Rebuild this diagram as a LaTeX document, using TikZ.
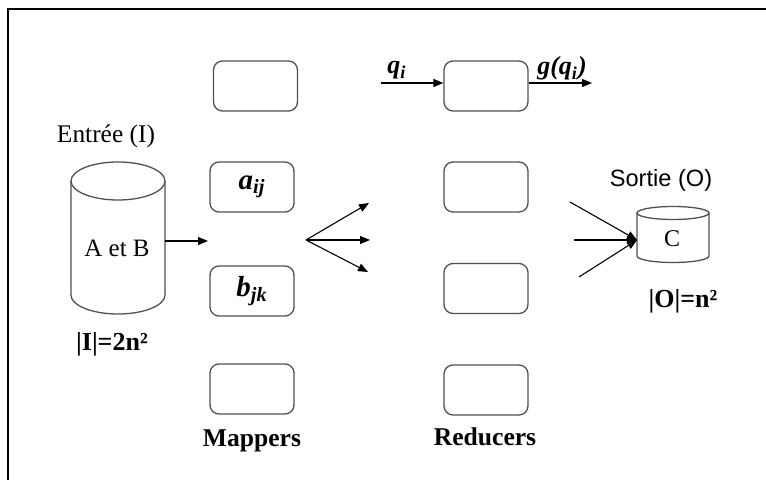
\documentclass[tikz,border=0pt]{standalone}
\usepackage{fontspec}
\setmainfont{Liberation Serif}
\newfontfamily\sansfont{Liberation Sans}
\usetikzlibrary{arrows.meta}
\definecolor{boxgray}{HTML}{505050}
\begin{document}
\begin{tikzpicture}[x=0.5pt,y=-0.5pt,
  procbox/.style={draw=boxgray, line width=0.65pt, rounded corners=4.5pt,
    minimum width=42pt, minimum height=25pt, inner sep=0pt},
  arr/.style={-{Triangle[length=5pt,width=4pt]}, line width=0.55pt},
  cyl/.style={draw=boxgray, line width=0.65pt},
  lbl/.style={anchor=base, inner sep=0pt},
  bi/.style={font=\fontsize{14.5}{16}\selectfont\bfseries\itshape},
  bq/.style={font=\fontsize{13}{15}\selectfont\bfseries\itshape},
  ttl/.style={font=\fontsize{12.8}{15}\selectfont\bfseries},
  card/.style={font=\fontsize{13}{15}\selectfont\bfseries}]
\useasboundingbox (0,0) rectangle (766,480);
% frame
\draw[line width=0.6pt] (8,480) -- (8,9) -- (766,9);

% input cylinder
\draw[cyl] (118,181) ellipse[x radius=47, y radius=19];
\draw[cyl] (71,181) -- (71,295) arc[start angle=180, end angle=0, x radius=47, y radius=19] -- (165,181);
\node[lbl, font=\fontsize{12.7}{15}\selectfont] (entree) at (106,143) {Entrée (I)};
\node[lbl, font=\fontsize{12.5}{15}\selectfont] (aetb) at (117,257) {A et B};
\node[lbl, card] (cardI) at (112,351) {|I|=2n²};
\coordinate (cylE) at (165,241);
\coordinate (mapIn) at (208,241);
\draw[arr] (cylE) -- (mapIn);

% mappers
\node[procbox] (m1) at (255.5,86) {};
\node[procbox, bi] (m2) at (252,187) {a\textsubscript{ij}};
\node[procbox, bi] (m3) at (252,291) {b\textsubscript{jk}};
\node[procbox] (m4) at (252,389) {};
\node[lbl, ttl] (mappers) at (252,447) {Mappers};

% fan
\coordinate (fan) at (306,240);
\coordinate (f1) at (369,203);
\coordinate (f2) at (370,240);
\coordinate (f3) at (368,272);
\draw[arr] (fan) -- (f1);
\draw[arr] (fan) -- (f2);
\draw[arr] (fan) -- (f3);

% reducers
\node[procbox] (r1) at (486,86) {};
\node[procbox] (r2) at (486,187) {};
\node[procbox] (r3) at (486,288.5) {};
\node[procbox] (r4) at (486,390) {};
\node[lbl, ttl] (reducers) at (485,446) {Reducers};

\coordinate (qin) at (381,83);
\coordinate (gout) at (592,83);
\draw[arr] (qin) -- (qin -| r1.west);
\draw[arr] (r1.east |- qin) -- (gout);
\node[lbl, bq] (qlab) at (397,74) {q\textsubscript{i}};
\node[lbl, bq] (glab) at (562,75) {g(q\textsubscript{i})};

% output cylinder
\draw[cyl] (673,213) ellipse[x radius=36, y radius=6.5];
\draw[cyl] (637,213) -- (637,256) arc[start angle=180, end angle=0, x radius=36, y radius=6.5] -- (709,213);
\node[lbl, font=\sansfont\fontsize{11.8}{14}\selectfont] (sortie) at (661,187) {Sortie (O)};
\node[lbl, font=\fontsize{12}{14}\selectfont] (clab) at (672,247) {C};
\node[lbl, card] (cardO) at (683,308) {|O|=n²};
\coordinate (cv) at (637,240);
\coordinate (c1) at (570,202);
\coordinate (c2) at (574,240);
\coordinate (c3) at (579,277);
\draw[arr] (c1) -- (cv);
\draw[arr] (c2) -- (cv);
\draw[arr] (c3) -- (cv);
\end{tikzpicture}
\end{document}
